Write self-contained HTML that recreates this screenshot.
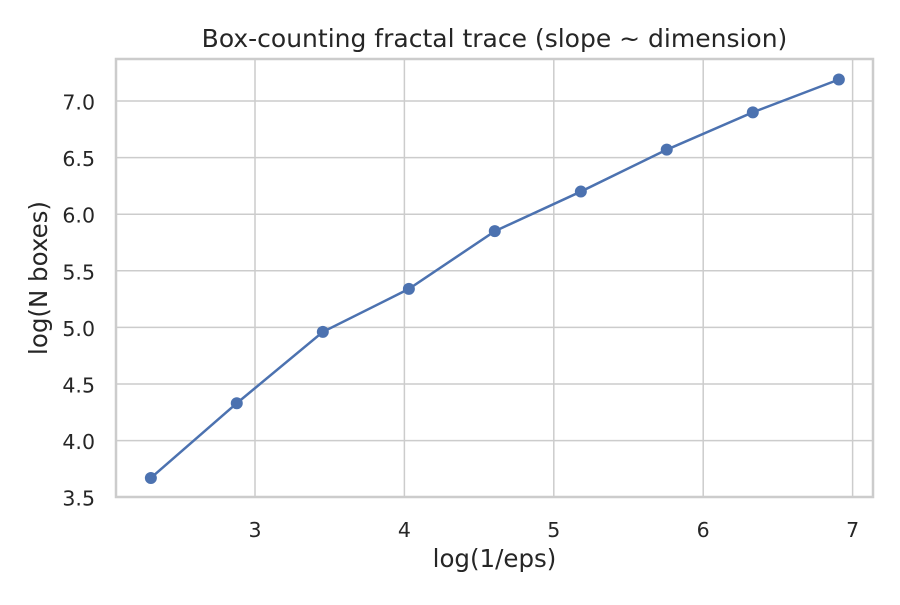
<!DOCTYPE html>
<html><head><meta charset="utf-8"><style>
body{margin:0;background:#fff;}
svg text{font-family:"DejaVu Sans","Liberation Sans",sans-serif;fill:#262626;}
</style></head><body>
<svg id="chart" width="900" height="600" viewBox="0 0 900 600" xmlns="http://www.w3.org/2000/svg">
<rect x="0" y="0" width="900" height="600" fill="#fff"/>
<g id="grid"></g>
<rect x="116" y="59" width="757" height="438" fill="none" stroke="#cccccc" stroke-width="2.5"/>
<g id="ticks"></g>
<g id="series"></g>
<text x="494.5" y="47" font-size="25" text-anchor="middle">Box-counting fractal trace (slope ~ dimension)</text>
<text x="494.5" y="567" font-size="24.5" text-anchor="middle">log(1/eps)</text>
<text x="47" y="278" font-size="24.5" text-anchor="middle" transform="rotate(-90 47 278)">log(N boxes)</text>
</svg>
<script>
const xValues=[2.303,2.878,3.454,4.030,4.605,5.181,5.756,6.332,6.908];
const yValues=[3.67,4.33,4.96,5.34,5.85,6.20,6.57,6.90,7.19];
const xTicks=[3,4,5,6,7];
const yTicks=[3.5,4.0,4.5,5.0,5.5,6.0,6.5,7.0];
const ns="http://www.w3.org/2000/svg";
function sx(v){return 255+(v-3)*149.4;}
function sy(v){return 101+(7-v)*113.2;}
function mk(tag,attrs,parent){const e=document.createElementNS(ns,tag);for(const k in attrs)e.setAttribute(k,attrs[k]);parent.appendChild(e);return e;}
const grid=document.getElementById('grid'),ticks=document.getElementById('ticks'),series=document.getElementById('series');
xTicks.forEach(t=>{
 const l=mk('line',{x1:sx(t),x2:sx(t),y1:59,y2:497,stroke:'#cccccc','stroke-width':1.5},grid);
 
 
 const tx=mk('text',{x:sx(t),y:537,'font-size':20.5,'text-anchor':'middle'},ticks);
 tx.textContent=String(t);
 
 
});
yTicks.forEach(t=>{
 const l=mk('line',{x1:116,x2:873,y1:sy(t),y2:sy(t),stroke:'#cccccc','stroke-width':1.5},grid);
 
 
 const tx=mk('text',{x:95,y:sy(t)+8.5,'font-size':20.5,'text-anchor':'end'},ticks);
 tx.textContent=t.toFixed(1);
 
 
});
const pts=xValues.map((x,i)=>sx(x)+','+sy(yValues[i])).join(' ');
const pl=mk('polyline',{points:pts,fill:'none',stroke:'#4c72b0','stroke-width':2.5},series);


xValues.forEach((x,i)=>{
 const c=mk('circle',{cx:sx(x),cy:sy(yValues[i]),r:6,fill:'#4c72b0'},series);
 
 
});
</script>
</body></html>
